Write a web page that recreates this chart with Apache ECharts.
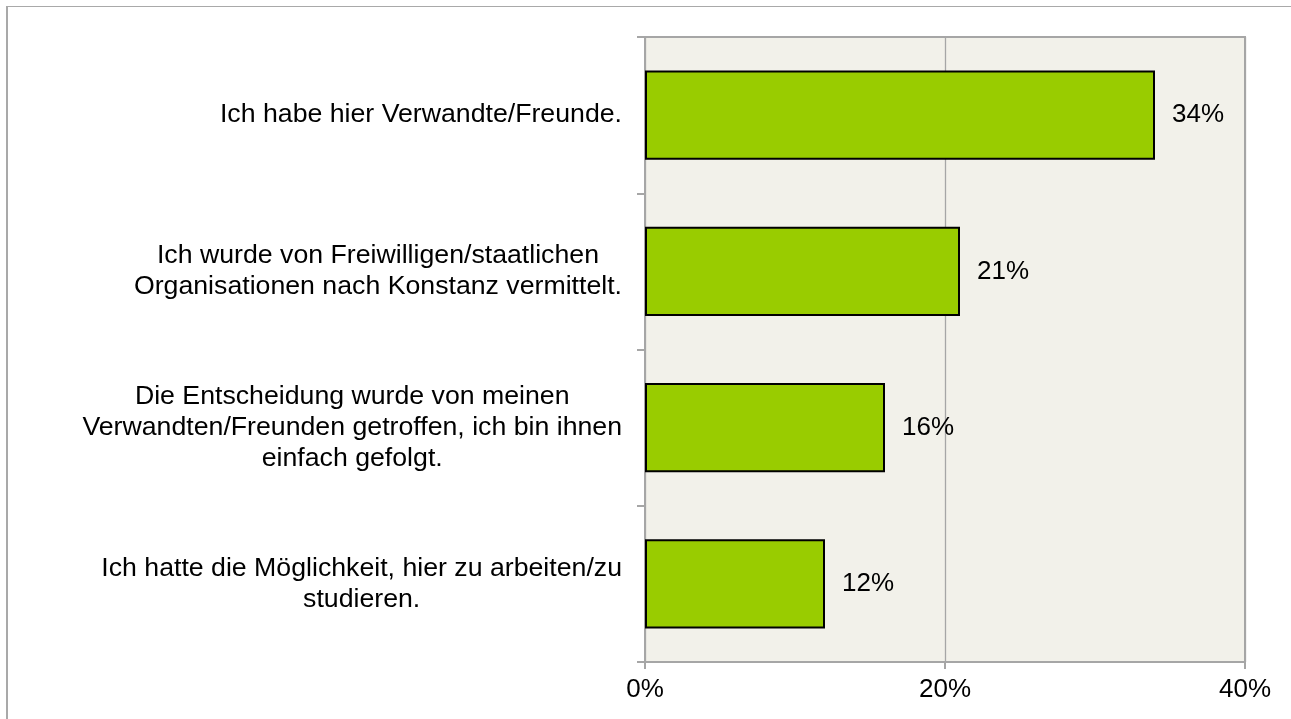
<!DOCTYPE html>
<html>
<head>
<meta charset="utf-8">
<script src="https://cdn.jsdelivr.net/npm/echarts@6/dist/echarts.min.js"></script>
<style>
  html, body { margin: 0; padding: 0; background: #fff; }
  #frame {
    position: absolute; left: 6px; top: 6px; right: 0; bottom: 0;
    border-top: 1px solid #a9a9a9; border-left: 2px solid #a9a9a9;
  }
  #chart { position: absolute; left: 0; top: 0; width: 1291px; height: 719px; }
</style>
</head>
<body>
<div id="frame"></div>
<div id="chart"></div>
<script>
// Reasons for coming to Konstanz (share of respondents, %)
const categories = [
  'Ich habe hier Verwandte/Freunde.',
  'Ich wurde von Freiwilligen/staatlichen\nOrganisationen nach Konstanz vermittelt.',
  'Die Entscheidung wurde von meinen\nVerwandten/Freunden getroffen, ich bin ihnen\neinfach gefolgt.',
  'Ich hatte die Möglichkeit, hier zu arbeiten/zu\nstudieren.'
];
const shares = [34, 21, 16, 12];
const axisMin = 0;
const axisMax = 40;
const axisStep = 20;

const FONT = 'Liberation Sans, Arial, sans-serif';
const chart = echarts.init(document.getElementById('chart'), null, { renderer: 'canvas' });

chart.setOption({
  animation: false,
  grid: {
    left: 645, right: 46, top: 37, bottom: 57,
    show: true,
    backgroundColor: '#f2f1ea',
    borderColor: '#a6a6a6',
    borderWidth: 2
  },
  xAxis: {
    type: 'value',
    min: axisMin, max: axisMax, interval: axisStep,
    axisLine: { show: true, lineStyle: { color: '#a6a6a6', width: 2 } },
    axisTick: { show: true, length: 7, lineStyle: { color: '#a6a6a6', width: 2 } },
    splitLine: { show: true, lineStyle: { color: '#a6a6a6', width: 1.3 } },
    axisLabel: {
      formatter: '{value}%',
      fontFamily: FONT, fontSize: 26, color: '#000', margin: 15
    }
  },
  yAxis: {
    type: 'category',
    data: categories,
    inverse: true,
    axisLine: { show: true, lineStyle: { color: '#a6a6a6', width: 2 } },
    axisTick: { show: true, length: 8, lineStyle: { color: '#a6a6a6', width: 2 } },
    axisLabel: {
      align: 'right',
      margin: 23,
      // each line is centred within the label block, block is right-aligned to the axis
      formatter: function (v) {
        return v.split('\n').map(function (s) { return '{c|' + s + '}'; }).join('\n');
      },
      rich: {
        c: { align: 'center', fontFamily: FONT, fontSize: 26.7, lineHeight: 31, color: '#000' }
      }
    }
  },
  series: [{
    type: 'bar',
    data: shares,
    barCategoryGap: '43%',
    itemStyle: { color: '#99cc00', borderColor: '#000', borderWidth: 2 },
    label: {
      show: true, position: 'right', distance: 17,
      formatter: '{c}%',
      fontFamily: FONT, fontSize: 26, color: '#000'
    }
  }]
});
</script>
</body>
</html>
